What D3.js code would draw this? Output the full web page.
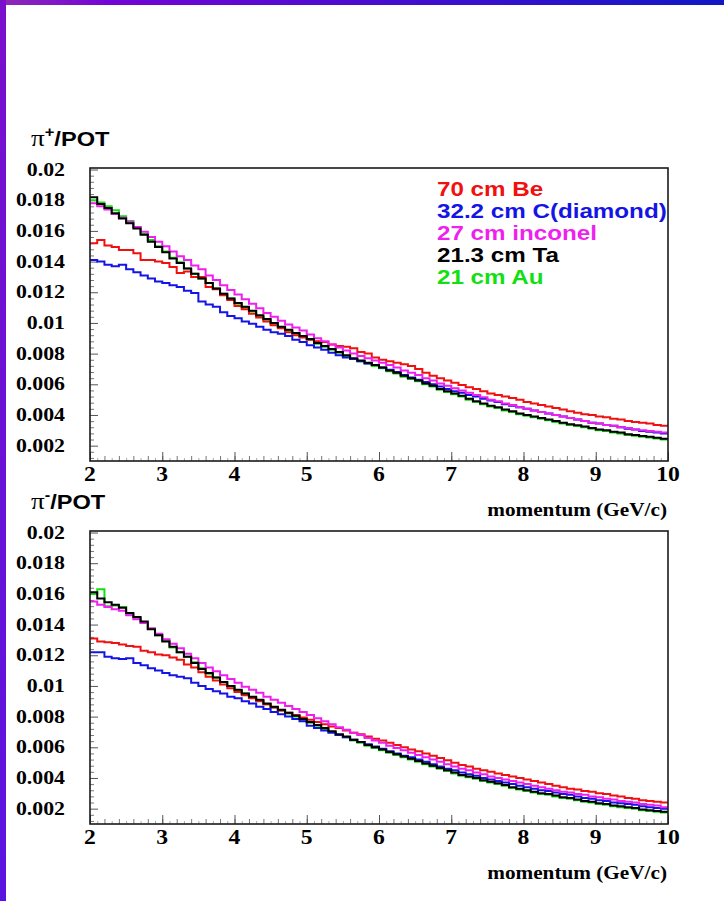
<!DOCTYPE html>
<html>
<head>
<meta charset="utf-8">
<title>pi+/POT and pi-/POT vs momentum</title>
<style>
body { margin: 0; background: #fff; }
svg text { font-weight: bold; }
.num { font-family: "Liberation Serif", "Times New Roman", serif; }
.sans { font-family: "Liberation Sans", Arial, sans-serif; }
</style>
</head>
<body>
<svg width="724" height="901"></svg>
<script src="https://d3js.org/d3.v7.min.js"></script>
<script>
// momentum bins 2..10 GeV/c, 0.1 wide; yields in units of 1e-4 pions per POT
var unit = 1e-4;
var pMin = 2, pMax = 10, binWidth = 0.1;
var targets = ["70 cm Be", "32.2 cm C(diamond)", "27 cm inconel", "21.3 cm Ta", "21 cm Au"];
var colors = ["#f01010", "#1414e6", "#ef1fef", "#000000", "#12e012"];
var yTicks = [0.002, 0.004, 0.006, 0.008, 0.01, 0.012, 0.014, 0.016, 0.018, 0.02];
var xTicks = [2, 3, 4, 5, 6, 7, 8, 9, 10];

// pi+ per POT
var plusBe = [152,154,150.5,149.5,147.5,147.5,145.5,141,141,140,
  139,136.5,132.5,133.5,130,130,123.5,122,118,115,
  111,109,106,103.5,101,98.5,96.5,94,92,90.5,
  89,88,87.5,86,85,84.5,83.5,81,80,77.5,
  76,75,74,73,72,70,67.5,65.5,64,62.5,
  61,59.5,58,57,55.5,54,53,52,51,50,
  48.5,47.5,46.5,45.5,44.5,43.5,42.5,41.5,40.5,40,
  39,38.5,37.5,37,36,35.5,35,34.5,33.5,33];
var plusC = [141,140,138,137,138,135,133,131,129,127,
  126,124.5,123.5,121,119.5,114,112,110.5,107,104.5,
  103,101,99.5,97.5,95.5,94,93,91.5,89,87.5,
  85.5,84,82.5,80.5,79,77.5,76.5,75,73.5,72.5,
  71,69.5,68,66,64.5,63,61.5,60,58.5,57,
  55.5,54.5,53,52,50.5,49.5,48.5,47,46,45,
  44,43,42,41,40,39,38,37,36,35,
  34.5,33.5,33,32,31,30.5,29.5,29,28.5,28];
var plusInconel = [178,176,174,171,168.5,166,162.5,159.5,156,153,
  150,146.5,143.5,141,137.5,135,131,128,124.5,121.5,
  118.5,115.5,112.5,109.5,106.5,104,101.5,99,97,95,
  92.5,90,88,86,84,82,80,78.5,77,75.5,
  74,72.5,71,69,67.5,66,64,62.5,60.5,59,
  57.5,56,54.5,53,51.5,50,49,47.5,46.5,45,
  44,43,42,41,40,39,38,37,36,35,
  34.5,33.5,33,32,31.5,30.5,30,29.5,29,28.5];
var plusTa = [182,177.5,175,171.5,168,165,161.5,157.5,153,149.5,
  146,142,139,135.5,132,129,126,122.5,119,116,
  113,110.5,108,105,102.5,100,97.5,95.5,93.5,91.5,
  89.5,87,85,83,81,79,77,75.5,74,72.5,
  71,69,67.5,65.5,64,62.5,60.5,59,57,55.5,
  54,52.5,50.5,49,47.5,46,45,43.5,42.5,41,
  40,39,38,37,36,35,34,33.3,32.5,31.5,
  30.5,30,29,28.5,27.5,27,26.3,25.8,25.2,24.5];
var plusAu = [180,178.5,176,173.5,169.5,166.5,162.5,158,154,150,
  146.5,142.5,139.5,135.5,132,129,126,122.5,119,116,
  112.5,110,107.5,104.5,102,99.5,97,95,93,91,
  89,86.5,84.5,82.5,80.5,78.5,76.5,75,73.5,72,
  70.5,68.5,67,65,63.5,62,60,58.5,56.5,55,
  53.5,52,50,48.5,47,45.5,44.5,43,42,40.5,
  39.5,38.5,37.5,36.5,35.5,34.5,33.5,32.8,32,31,
  30,29.5,28.5,28,27,26.5,25.8,25.3,24.7,24];

// pi- per POT
var minusBe = [131,129,128.5,128,127,126,125.5,123,122,120.5,
  120,118.5,117,114,112,109,106,103.5,101,98.5,
  96,94,92,90,88,86,84,82.5,81,79.5,
  78,76.5,75,73.5,72.5,71,69.5,68.5,67,65.5,
  64.5,63,61.5,60,58.5,57.5,56,54.5,53,51.5,
  50,48.5,47.5,46,45,44,43,42,41,40,
  39,38,37,36,35,34,33,32.5,31.5,31,
  30,29.5,28.5,28,27,26.5,25.5,25,24.5,24];
var minusC = [122,122,119,118,117.5,118,115,113.5,111.5,110,
  108.5,107,106,105,102,100,98,96.5,95,93,
  92,90,88.5,86.5,85,83,81.5,80,78.5,77,
  74,72.5,71,69.5,68,66.5,65,63.5,62,60.5,
  59,57.5,56,54.5,53.5,52,50.5,49,47.5,46,
  45,43.5,42.5,41.5,40,39,38,37,36,35,
  34,33,32,31.5,30.5,29.5,29,28,27,26.5,
  25.5,25,24,23.5,23,22.5,21.5,21,20.5,20];
var minusInconel = [155,153,151.5,150,149,146,143.5,141,137.5,134,
  130.5,127.5,124.5,121,118,115,112,109.5,107,104.5,
  102,99.5,97.5,95.5,93,91,89,87,85,83,
  81,79,77,75,73,71.5,69.5,68,66,64.5,
  63,61,59.5,58,56.5,55,53.5,52,50.5,49,
  47.5,46,45,43.5,42.5,41,40,39,38,37,
  36,35,34,33,32,31,30.5,29.5,29,28,
  27.5,26.5,26,25,24.5,24,23,22.5,22,21];
var minusTa = [161,157,154.5,153,151,147.5,145,142,137,133,
  129,125.5,122,119,115,111,108.5,105.5,102.5,100,
  97.5,95,93,91,88.5,86.5,84.5,82.5,80.5,78.5,
  76.5,74.5,72.5,70.5,68.5,67,65,63.5,61.5,60,
  58.5,57,55.5,54,52.5,51,49.5,48,46.5,45,
  43.5,42,41,40,38.5,37.5,36.5,35.5,34,33,
  32,31,30,29.5,28.5,27.5,27,26,25,24.5,
  23.5,23,22,21.5,21,20.5,19.5,19,18.5,18];
var minusAu = [160,163,152,152.5,151.5,147,144.5,141,137.5,133,
  129.5,125,122,119,115.5,111.5,108,105.5,102.5,100,
  97,95,92.5,90.5,88,86,84,82,80,78,
  76,74,72,70,68,66.5,64.5,63,61,59.5,
  58,56.5,55,53.5,52,50.5,49,47.5,46,44.5,
  43,41.5,40.5,39.5,38,37,36,35,33.5,32.5,
  31.5,30.5,29.5,29,28,27,26.5,25.5,24.5,24,
  23,22.5,21.5,21,20.5,20,19,18.5,18,17.5];

var SX = 1.18; // the slide is stretched sideways

var svg = d3.select("svg");

// slide border
var defs = svg.append("defs");
var gTop = defs.append("linearGradient").attr("id", "gTop");
gTop.append("stop").attr("offset", "0%").attr("stop-color", "#8e2ab6");
gTop.append("stop").attr("offset", "15%").attr("stop-color", "#7404d6");
gTop.append("stop").attr("offset", "100%").attr("stop-color", "#1018c4");
var gLeft = defs.append("linearGradient").attr("id", "gLeft")
    .attr("x1", 0).attr("y1", 0).attr("x2", 0).attr("y2", 1);
gLeft.append("stop").attr("offset", "0%").attr("stop-color", "#7a10cc");
gLeft.append("stop").attr("offset", "100%").attr("stop-color", "#5a14e0");
svg.append("rect").attr("x", 0).attr("y", 0).attr("width", 724).attr("height", 5).attr("fill", "url(#gTop)");
svg.append("rect").attr("x", 0).attr("y", 0).attr("width", 6).attr("height", 901).attr("fill", "url(#gLeft)");

var x = d3.scaleLinear().domain([pMin, pMax]).range([90, 668]);
var edges = d3.range(plusBe.length).map(function(i) { return pMin + i * binWidth; });

function stretched(g, px, py, str, cls, size, anchor) {
  return g.append("text")
    .attr("class", cls)
    .attr("transform", "translate(" + px + "," + py + ") scale(" + SX + ",1)")
    .attr("font-size", size)
    .attr("text-anchor", anchor)
    .text(str);
}

function panel(top, bottom, series, sign) {
  var y = d3.scaleLinear().domain([0.001, 0.0201]).range([bottom, top]);
  var g = svg.append("g");

  // minor / major ticks on the left axis
  var yMinor = d3.range(3, 51).map(function(k) { return k * 0.0004; })
      .filter(function(v) { return Math.abs(v / 0.002 - Math.round(v / 0.002)) > 0.01; });
  g.append("g").attr("transform", "translate(" + x(pMin) + ",0)")
    .call(d3.axisLeft(y).tickValues(yMinor).tickSize(-4).tickFormat(""))
    .call(function(a) { a.select(".domain").remove(); a.selectAll("line").attr("stroke", "#777"); });
  g.append("g").attr("transform", "translate(" + x(pMin) + ",0)")
    .call(d3.axisLeft(y).tickValues(yTicks).tickSize(-8).tickFormat(""))
    .call(function(a) { a.select(".domain").remove(); a.selectAll("line").attr("stroke", "#555"); });

  // ticks on the momentum axis
  var xFine = d3.range(1, 80).map(function(i) { return pMin + i * 0.1; });
  g.append("g").attr("transform", "translate(0," + bottom + ")")
    .call(d3.axisBottom(x).tickValues(xFine.filter(function(v, i) { return i % 2 == 0; })).tickSize(-3).tickFormat(""))
    .call(function(a) { a.select(".domain").remove(); a.selectAll("line").attr("stroke", "#aaa"); });
  g.append("g").attr("transform", "translate(0," + bottom + ")")
    .call(d3.axisBottom(x).tickValues(xFine.filter(function(v, i) { return i % 2 == 1; })).tickSize(-5).tickFormat(""))
    .call(function(a) { a.select(".domain").remove(); a.selectAll("line").attr("stroke", "#777"); });
  g.append("g").attr("transform", "translate(0," + bottom + ")")
    .call(d3.axisBottom(x).tickValues(xTicks).tickSize(-9).tickFormat(""))
    .call(function(a) { a.select(".domain").remove(); a.selectAll("line").attr("stroke", "#555"); });

  // histograms
  var line = d3.line().curve(d3.curveStepAfter);
  var order = [4, 0, 1, 2, 3];
  order.forEach(function(k) {
    var vals = series[k];
    var pts = vals.map(function(v, i) { return [x(edges[i]), y(v * unit)]; });
    pts.push([x(pMax), y(vals[vals.length - 1] * unit)]);
    g.append("path")
      .attr("d", line(pts))
      .attr("fill", "none")
      .attr("stroke", colors[k])
      .attr("stroke-width", 2);
  });

  // frame
  g.append("rect")
    .attr("x", x(pMin)).attr("y", top)
    .attr("width", x(pMax) - x(pMin)).attr("height", bottom - top)
    .attr("fill", "none").attr("stroke", "#1a1a1a").attr("stroke-width", 1.6);

  // tick labels
  yTicks.forEach(function(v) {
    stretched(g, 65, y(v) + 6, String(+v.toFixed(3)), "num", 18.5, "end");
  });
  xTicks.forEach(function(v) {
    stretched(g, x(v), bottom + 20, String(v), "num", 20, "middle");
  });
  stretched(g, 667, bottom + 55, "momentum (GeV/c)", "num", 18, "end");

  // y title
  var t = g.append("text")
    .attr("transform", "translate(31," + (top - 22) + ") scale(" + SX + ",1)")
    .attr("class", "sans");
  t.append("tspan").attr("class", "num").attr("font-weight", "normal").attr("font-size", 23).text("\u03c0");
  t.append("tspan").attr("font-size", 14).attr("dy", -9).text(sign);
  t.append("tspan").attr("font-size", 20).attr("dy", 9).text("/POT");

  return g;
}

var top1 = panel(168, 461, [plusBe, plusC, plusInconel, plusTa, plusAu], "+");
panel(531, 824, [minusBe, minusC, minusInconel, minusTa, minusAu], "-");

// legend (top panel only)
targets.forEach(function(name, i) {
  stretched(top1, 437, 196 + i * 22, name, "sans", 20.5, "start").attr("fill", colors[i]);
});
</script>
</body>
</html>
